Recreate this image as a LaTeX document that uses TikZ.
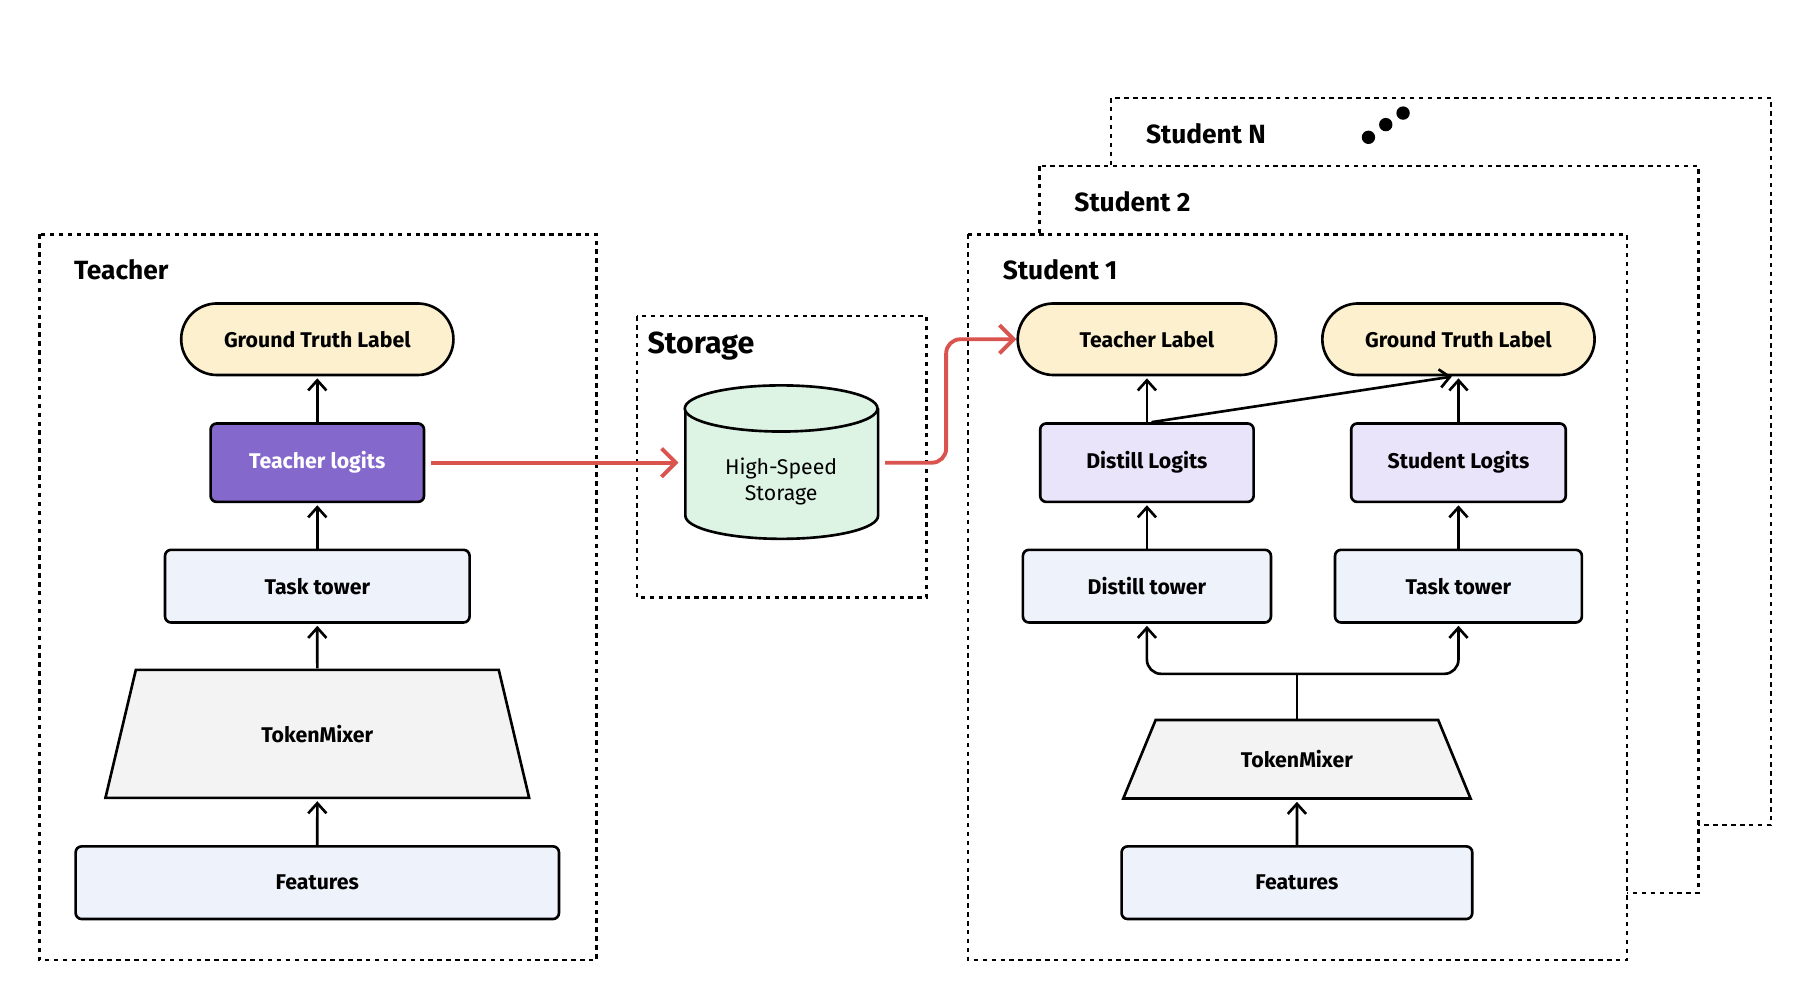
\documentclass[tikz,border=0pt]{standalone}
\usepackage{fontspec}
\setmainfont{Fira Sans}
\usepackage{tikz}
\usetikzlibrary{shapes.geometric,arrows.meta}
\definecolor{pillY}{HTML}{FCF0CF}
\definecolor{boxB}{HTML}{EEF2FB}
\definecolor{logitP}{HTML}{8468CC}
\definecolor{logitL}{HTML}{EAE4FB}
\definecolor{mixG}{HTML}{F3F3F3}
\definecolor{storeG}{HTML}{DDF3E4}
\definecolor{flowR}{HTML}{D9534F}
\begin{document}
\begin{tikzpicture}[x=0.02cm,y=-0.02cm,
  frame/.style={draw, line width=1.3pt, dash pattern=on 2.2pt off 2.2pt, fill=white},
  title/.style={anchor=west, font=\fontsize{13}{15}\selectfont\bfseries},
  box/.style={draw, line width=1.3pt, rounded corners=3pt, font=\fontsize{10.5}{12}\selectfont\bfseries, inner sep=0pt},
  pill/.style={box, rounded corners=0.62cm, fill=pillY},
  mixer/.style={draw, line width=1.3pt, trapezium, trapezium stretches=true, fill=mixG, font=\fontsize{10.5}{12}\selectfont\bfseries, inner sep=0pt},
  up/.style={-{Straight Barb[length=5pt,width=9pt]}, line width=1.3pt, shorten >=1pt},
  flow/.style={-{Straight Barb[length=7pt,width=14pt]}, line width=1.9pt, draw=flowR, rounded corners=7pt}]
\useasboundingbox (0,0) rectangle (1560,862);
% teacher
\draw[frame] (34,203) rectangle (517,832);
\node[title] (tt) at (58,234) {Teacher};
\node[pill, minimum width=4.72cm, minimum height=1.24cm] (tgt) at (275,294) {Ground Truth Label};
\node[box, fill=logitP, text=white, minimum width=3.7cm, minimum height=1.36cm] (tlog) at (275,401) {Teacher logits};
\node[box, fill=boxB, minimum width=5.28cm, minimum height=1.26cm] (ttask) at (275,508) {Task tower};
\node[mixer, trapezium angle=62, minimum width=7.36cm, minimum height=2.22cm] (tmix) at (275,636) {TokenMixer};
\node[box, fill=boxB, minimum width=8.38cm, minimum height=1.26cm] (tfeat) at (275,765) {Features};
\draw[up] (tfeat) -- (tmix);
\draw[up] (tmix) -- (ttask);
\draw[up] (ttask) -- (tlog);
\draw[up] (tlog) -- (tgt);
% storage
\draw[frame] (552,274) rectangle (803,518);
\node[title, font=\fontsize{15}{17}\selectfont\bfseries] (st) at (555,300) {Storage};
\filldraw[fill=storeG, line width=1.3pt] (594,354) -- (594,447) arc[start angle=180, end angle=360, x radius=83.5, y radius=-20] -- (761,354);
\filldraw[fill=storeG, line width=1.3pt] (677,354) ellipse[x radius=83.5, y radius=20];
\node[align=center, font=\fontsize{10.5}{13}\selectfont, minimum width=3.34cm, minimum height=2.68cm] (store) at (677,417) {High-Speed\\Storage};
% students
\draw[frame] (963,85) rectangle (1535,715);
\node[title] (sn) at (987,116) {Student N};
\fill (1186,119) circle (3.3pt) (1201,108) circle (3.3pt) (1216,98) circle (3.3pt);
\draw[frame] (901,144) rectangle (1472,774);
\node[title] (s2) at (925,175) {Student 2};
\draw[frame] (839,203) rectangle (1410,832);
\node[title] (s1) at (863,234) {Student 1};
\node[pill, minimum width=4.48cm, minimum height=1.24cm] (tlab) at (994,294) {Teacher Label};
\node[pill, minimum width=4.72cm, minimum height=1.24cm] (sgt) at (1264,294) {Ground Truth Label};
\node[box, fill=logitL, minimum width=3.7cm, minimum height=1.36cm] (dlog) at (994,401) {Distill Logits};
\node[box, fill=logitL, minimum width=3.72cm, minimum height=1.36cm] (slog) at (1264,401) {Student Logits};
\node[box, fill=boxB, minimum width=4.3cm, minimum height=1.26cm] (dtow) at (994,508) {Distill tower};
\node[box, fill=boxB, minimum width=4.28cm, minimum height=1.26cm] (stask) at (1264,508) {Task tower};
\node[mixer, trapezium angle=54, minimum width=6.04cm, minimum height=1.36cm] (smix) at (1124,658) {TokenMixer};
\node[box, fill=boxB, minimum width=6.08cm, minimum height=1.26cm] (sfeat) at (1124,765) {Features};
\coordinate (split) at (1124,584);
\draw[up] (sfeat) -- (smix);
\draw[line width=1.3pt] (smix.top side) -- (split);
\draw[up, rounded corners=7pt] (split) -| (dtow.south);
\draw[up, rounded corners=7pt] (split) -| (stask.south);
\draw[up] (dtow) -- (dlog);
\draw[up] (stask) -- (slog);
\draw[up] (dlog) -- (tlab);
\draw[up] (slog) -- (sgt);
\draw[up] ([xshift=0.08cm]dlog.north) -- ([xshift=-0.08cm]sgt.south);
% flow
\draw[flow] (tlog.east) ++(5,0) -- (588,401);
\draw[flow] (767,401) -- (820,401) -- (820,294) -- (tlab.west);
\end{tikzpicture}
\end{document}
